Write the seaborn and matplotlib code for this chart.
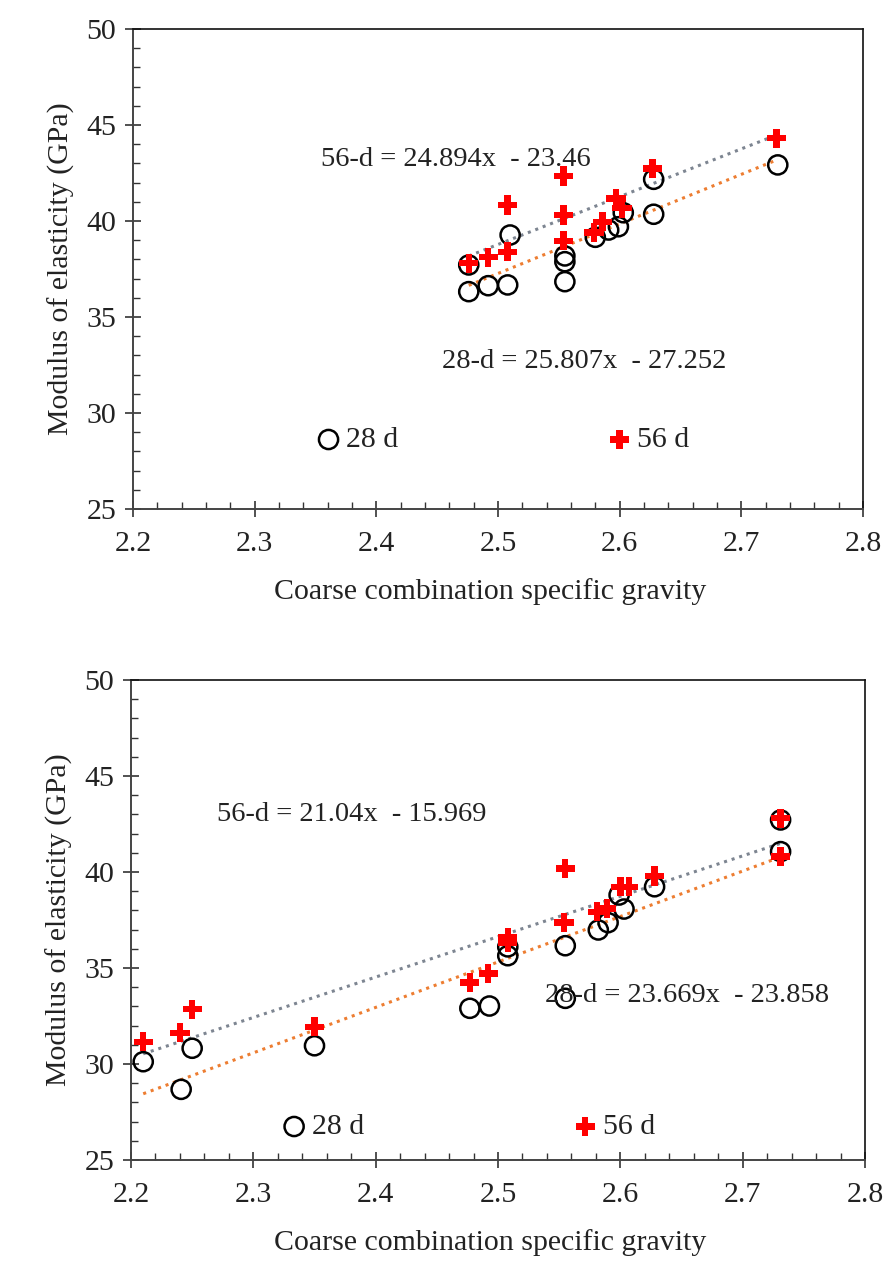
import numpy as np
import pandas as pd
import matplotlib
matplotlib.use('Agg')
import matplotlib.pyplot as plt
from matplotlib.ticker import MultipleLocator
import seaborn as sns

# Top panel: values
top_x28 = [2.476, 2.476, 2.492, 2.508, 2.510, 2.555, 2.555, 2.555,
           2.580, 2.591, 2.599, 2.603, 2.628, 2.628, 2.730]
top_y28 = [36.32, 37.71, 36.63, 36.67, 39.27, 36.84, 37.88, 38.18,
           39.15, 39.53, 39.70, 40.43, 40.35, 42.17, 42.92]
top_x56 = [2.476, 2.492, 2.508, 2.508, 2.554, 2.554, 2.554,
           2.579, 2.586, 2.597, 2.602, 2.627, 2.729]
top_y56 = [37.80, 38.11, 40.83, 38.40, 42.34, 40.31, 38.97,
           39.41, 39.96, 41.18, 40.66, 42.74, 44.31]

# Bottom panel
bot_x28 = [2.210, 2.241, 2.250, 2.350, 2.477, 2.493, 2.508, 2.508, 2.555,
           2.555, 2.582, 2.590, 2.599, 2.603, 2.628, 2.731, 2.731]
bot_y28 = [30.12, 28.68, 30.82, 30.95, 32.90, 33.02, 35.64, 36.10, 36.16,
           33.42, 36.98, 37.36, 38.80, 38.07, 39.23, 42.71, 41.06]
bot_x56 = [2.210, 2.240, 2.250, 2.350, 2.477, 2.492, 2.508, 2.508, 2.555,
           2.554, 2.581, 2.589, 2.600, 2.607, 2.628, 2.731, 2.731]
bot_y56 = [31.16, 31.63, 32.85, 31.94, 34.24, 34.72, 36.32, 36.60, 40.19,
           37.36, 37.93, 38.10, 39.23, 39.23, 39.79, 42.80, 40.80]

# Trendline coefficients printed on the chart (slope, intercept)
top_fit = {'56': (24.894, -23.46), '28': (25.807, -27.252)}
bot_fit = {'56': (21.04, -15.969), '28': (23.669, -23.858)}

sns.set_theme(style='white')
plt.rcParams['font.family'] = ['Liberation Serif', 'DejaVu Serif']

FS = 21.5      # ticks, axis labels, legend
FS_EQ = 20.5   # equations
TXT = '#222222'

fig = plt.figure(figsize=(8.96, 12.7), dpi=100)
ax1 = fig.add_axes([0.1484, 0.5992, 0.8147, 0.378])
ax2 = fig.add_axes([0.1462, 0.0866, 0.8192, 0.378])


def draw_panel(ax, x28, y28, x56, y56, fit, eq56, eq28, leg_anchor):
    d28 = pd.DataFrame({'x': x28, 'y': y28})
    d56 = pd.DataFrame({'x': x56, 'y': y56})

    # dotted linear trendlines over the data range
    for key, d, col in [('56', d56, '#7d8591'), ('28', d28, '#ED7D31')]:
        m, b = fit[key]
        xs = np.array([d['x'].min(), d['x'].max()])
        sns.lineplot(x=xs, y=m * xs + b, ax=ax, color=col,
                     linestyle=(0, (1, 1.6)), linewidth=2.2, zorder=1)

    sns.scatterplot(data=d28, x='x', y='y', ax=ax, marker='o', s=190,
                    facecolors='none', edgecolor='black', linewidth=1.8,
                    label='28 d', zorder=3)
    sns.scatterplot(data=d56, x='x', y='y', ax=ax, marker='P', s=190,
                    color='#ff0000', edgecolor='none', linewidth=0,
                    label='56 d', zorder=4)

    ax.text(eq56[0], eq56[1], eq56[2], fontsize=FS_EQ, color=TXT,
            ha='center', va='center')
    ax.text(eq28[0], eq28[1], eq28[2], fontsize=FS_EQ, color=TXT,
            ha='center', va='center')

    ax.set_xlim(2.2, 2.8)
    ax.set_ylim(25, 50)
    ax.xaxis.set_major_locator(MultipleLocator(0.1))
    ax.xaxis.set_minor_locator(MultipleLocator(0.02))
    ax.yaxis.set_major_locator(MultipleLocator(5))
    ax.yaxis.set_minor_locator(MultipleLocator(1))
    ax.xaxis.set_major_formatter(matplotlib.ticker.FormatStrFormatter('%.1f'))
    ax.tick_params(which='major', direction='inout', length=12, width=1.2,
                   colors='#333333', labelsize=FS, labelcolor=TXT,
                   bottom=True, left=True, top=False, right=False)
    ax.tick_params(axis='x', which='major', pad=10)
    ax.tick_params(axis='y', which='major', pad=6)
    ax.tick_params(which='minor', direction='in', length=5, width=1.0,
                   colors='#333333', bottom=True, left=True,
                   top=False, right=False)
    for side in ['left', 'bottom']:
        ax.spines[side].set_color('#444444')
        ax.spines[side].set_linewidth(1.4)
    for side in ['top', 'right']:
        ax.spines[side].set_color('#111111')
        ax.spines[side].set_linewidth(1.2)

    ax.set_xlabel('Coarse combination specific gravity', fontsize=FS,
                  color=TXT, labelpad=15)
    ax.xaxis.label.set_x(0.489)
    ax.set_ylabel('Modulus of elasticity (GPa)', fontsize=FS, color=TXT,
                  labelpad=8)

    ax.legend(loc='center', bbox_to_anchor=leg_anchor, ncol=2,
              frameon=False, fontsize=FS, handlelength=1.0,
              handletextpad=0.1, columnspacing=6.9, borderpad=0,
              labelcolor=TXT)


draw_panel(ax1, top_x28, top_y28, top_x56, top_y56, top_fit,
           (2.4655, 43.18, '56-d = 24.894x  - 23.46'),
           (2.571, 32.66, '28-d = 25.807x  - 27.252'),
           (0.505, 0.144))
draw_panel(ax2, bot_x28, bot_y28, bot_x56, bot_y56, bot_fit,
           (2.3803, 42.97, '56-d = 21.04x  - 15.969'),
           (2.6542, 33.59, '28-d = 23.669x  - 23.858'),
           (0.458, 0.069))

plt.savefig('out.png', dpi=100)
